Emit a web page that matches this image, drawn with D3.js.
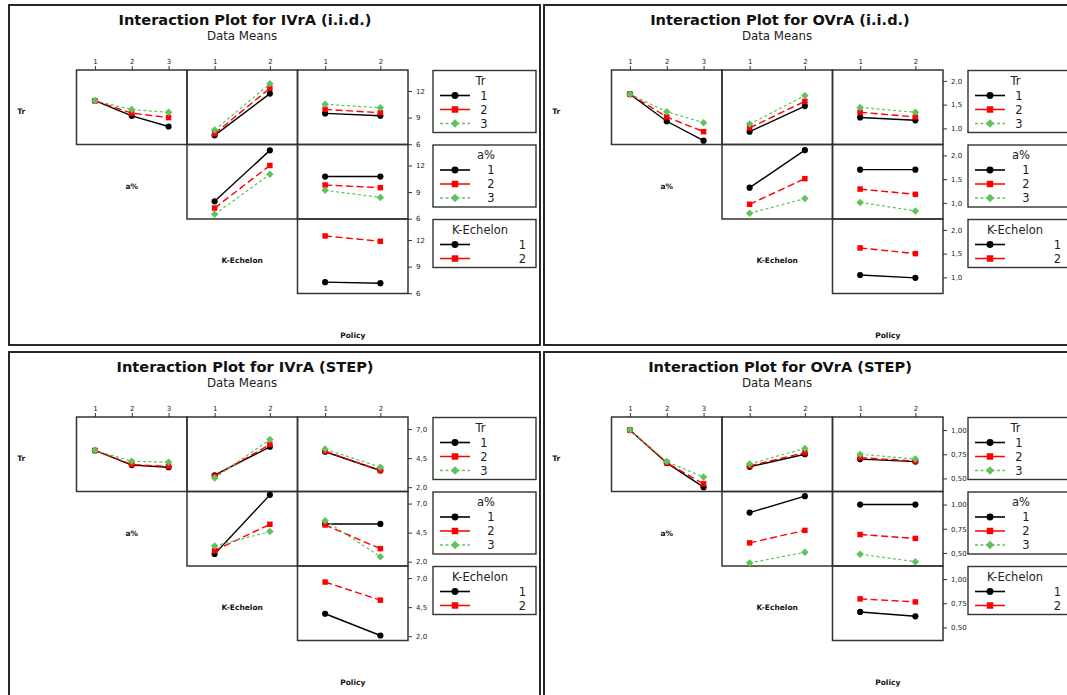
<!DOCTYPE html>
<html>
<head>
<meta charset="utf-8">
<script src="https://cdn.jsdelivr.net/npm/d3@7"></script>
<style>
  body { margin: 0; background: #fff; }
  svg { display: block; font-family: "DejaVu Sans", sans-serif; }
</style>
</head>
<body>
<svg id="chart" width="1067" height="695"></svg>
<script>
// ---- Factor levels -------------------------------------------------------
const trLevels = ["1", "2", "3"];
const aLevels = ["1", "2", "3"];
const kLevels = ["1", "2"];
const policyLevels = ["1", "2"];
const factorNames = ["Tr", "a%", "K-Echelon", "Policy"];

// ---- Data means (each row = one level of the trace factor) --------------
// IVrA (i.i.d.)
const ivraIidTrByA = [[10.9, 9.2, 8.0], [10.9, 9.5, 9.0], [10.9, 9.9, 9.6]];
const ivraIidTrByK = [[7.0, 11.7], [7.2, 12.3], [7.6, 12.8]];
const ivraIidTrByPolicy = [[9.47, 9.21], [9.92, 9.55], [10.49, 10.11]];
const ivraIidAByK = [[7.96, 13.7], [7.2, 12.0], [6.5, 11.0]];
const ivraIidAByPolicy = [[10.75, 10.75], [9.8, 9.5], [9.2, 8.4]];
const ivraIidKByPolicy = [[7.25, 7.13], [12.45, 11.85]];
const ivraIidTicks = [6, 9, 12];

// OVrA (i.i.d.)
const ovraIidTrByA = [[1.72, 1.15, 0.74], [1.72, 1.24, 0.93], [1.72, 1.35, 1.12]];
const ovraIidTrByK = [[0.93, 1.47], [1.01, 1.57], [1.09, 1.69]];
const ovraIidTrByPolicy = [[1.23, 1.17], [1.34, 1.24], [1.44, 1.34]];
const ovraIidAByK = [[1.32, 2.11], [0.97, 1.51], [0.78, 1.09]];
const ovraIidAByPolicy = [[1.70, 1.70], [1.29, 1.18], [1.01, 0.83]];
const ovraIidKByPolicy = [[1.05, 0.99], [1.62, 1.50]];
const ovraIidTicks = [1.0, 1.5, 2.0];

// IVrA (STEP)
const ivraStepTrByA = [[5.16, 3.9, 3.72], [5.16, 3.95, 3.78], [5.16, 4.24, 4.15]];
const ivraStepTrByK = [[3.03, 5.48], [2.95, 5.68], [2.8, 6.1]];
const ivraStepTrByPolicy = [[5.05, 3.44], [5.1, 3.44], [5.28, 3.72]];
const ivraStepAByK = [[2.66, 7.75], [2.95, 5.22], [3.35, 4.59]];
const ivraStepAByPolicy = [[5.25, 5.25], [5.16, 3.12], [5.53, 2.43]];
const ivraStepKByPolicy = [[3.93, 2.06], [6.66, 5.1]];
const ivraStepTicks = [2.0, 4.5, 7.0];

// OVrA (STEP)
const ovraStepTrByA = [[1.0, 0.66, 0.41], [1.0, 0.663, 0.444], [1.0, 0.674, 0.514]];
const ovraStepTrByK = [[0.62, 0.75], [0.63, 0.767], [0.65, 0.81]];
const ovraStepTrByPolicy = [[0.70, 0.674], [0.715, 0.68], [0.75, 0.70]];
const ovraStepAByK = [[0.917, 1.087], [0.604, 0.733], [0.396, 0.507]];
const ovraStepAByPolicy = [[1.0, 1.0], [0.69, 0.65], [0.486, 0.41]];
const ovraStepKByPolicy = [[0.66, 0.615], [0.795, 0.764]];
const ovraStepTicks = [0.50, 0.75, 1.00];

// ---- Helpers --------------------------------------------------------------
const levelsOf = [trLevels, aLevels, kLevels, policyLevels];
const loc = d3.formatLocale({ decimal: ",", thousands: ".", grouping: [3], currency: ["", ""] });

const panels = [
  { title: "Interaction Plot for IVrA (i.i.d.)", origin: [9, 5], h: 340,
    domain: [5.97, 14.36], ticks: ivraIidTicks, fmt: loc.format("d"),
    cells: [[ivraIidTrByA, ivraIidTrByK, ivraIidTrByPolicy], [null, ivraIidAByK, ivraIidAByPolicy], [null, null, ivraIidKByPolicy]] },
  { title: "Interaction Plot for OVrA (i.i.d.)", origin: [544, 5], h: 340,
    domain: [0.66, 2.23], ticks: ovraIidTicks, fmt: loc.format(".1f"),
    cells: [[ovraIidTrByA, ovraIidTrByK, ovraIidTrByPolicy], [null, ovraIidAByK, ovraIidAByPolicy], [null, null, ovraIidKByPolicy]] },
  { title: "Interaction Plot for IVrA (STEP)", origin: [9, 352], h: 360,
    domain: [1.63, 8.04], ticks: ivraStepTicks, fmt: loc.format(".1f"),
    cells: [[ivraStepTrByA, ivraStepTrByK, ivraStepTrByPolicy], [null, ivraStepAByK, ivraStepAByPolicy], [null, null, ivraStepKByPolicy]] },
  { title: "Interaction Plot for OVrA (STEP)", origin: [544, 352], h: 360,
    domain: [0.365, 1.135], ticks: ovraStepTicks, fmt: loc.format(".2f"),
    cells: [[ovraStepTrByA, ovraStepTrByK, ovraStepTrByPolicy], [null, ovraStepAByK, ovraStepAByPolicy], [null, null, ovraStepKByPolicy]] }
];

// Series styling by trace level (diamond = square turned 45 degrees)
const seriesStyle = [
  { color: "#000000", dash: null, ldash: null, width: 1.4, symbol: d3.symbolCircle, rot: 0, size: 30, lsize: 38 },
  { color: "#ff0000", dash: "7,3.5", ldash: "13,4", width: 1.4, symbol: d3.symbolSquare, rot: 0, size: 30, lsize: 42 },
  { color: "#5fc25c", dash: "3,2.5", ldash: "3,2.5", width: 1.2, symbol: d3.symbolSquare, rot: 45, size: 28, lsize: 36 }
];

// Grid geometry inside each panel
const gx0 = 67.5, gy0 = 65, cw = 110.5, ch = 74.5;
const legendX = 424, legendW = 103;
const legendTitleX = [471.5, 477, 471];
const legendLabelX = [475, 482, 513.5];

const svg = d3.select("#chart");

panels.forEach(p => {
  const g = svg.append("g").attr("transform", `translate(${p.origin[0]},${p.origin[1]})`);

  // panel frame
  g.append("rect").attr("x", 0).attr("y", 0).attr("width", 531).attr("height", p.h)
    .attr("fill", "none").attr("stroke", "#111").attr("stroke-width", 1.8);

  // titles
  g.append("text").attr("x", 236).attr("y", 19.5).attr("text-anchor", "middle")
    .attr("font-weight", "bold").attr("font-size", 14.6).attr("fill", "#111").text(p.title);
  g.append("text").attr("x", 233).attr("y", 35).attr("text-anchor", "middle")
    .attr("font-size", 11.8).attr("fill", "#222").text("Data Means");

  // x scales per column (column c uses factor c+1)
  const xs = [0, 1, 2].map(c => d3.scalePoint().domain(levelsOf[c + 1])
    .range([gx0 + c * cw, gx0 + (c + 1) * cw]).padding(0.5));
  // y scales per row
  const ys = [0, 1, 2].map(r => d3.scaleLinear().domain(p.domain)
    .range([gy0 + (r + 1) * ch, gy0 + r * ch]));

  // top axes
  xs.forEach(x => {
    const ax = g.append("g").attr("transform", `translate(0,${gy0})`)
      .call(d3.axisTop(x).tickSize(4).tickSizeOuter(0).tickPadding(2.5));
    ax.select(".domain").remove();
    ax.selectAll("line").attr("stroke", "#333").attr("stroke-width", 1);
    ax.selectAll("text").attr("font-size", 7).attr("fill", "#222").attr("font-family", "DejaVu Sans");
  });

  // right axes
  ys.forEach(y => {
    const ax = g.append("g").attr("transform", `translate(${gx0 + 3 * cw},0)`)
      .call(d3.axisRight(y).tickValues(p.ticks).tickFormat(p.fmt).tickSize(4).tickSizeOuter(0).tickPadding(4));
    ax.select(".domain").remove();
    ax.selectAll("line").attr("stroke", "#333").attr("stroke-width", 1);
    ax.selectAll("text").attr("font-size", 7).attr("fill", "#222").attr("font-family", "DejaVu Sans");
  });

  // cells
  for (let r = 0; r < 3; r++) {
    for (let c = r; c < 3; c++) {
      const table = p.cells[r][c];
      const x = xs[c], y = ys[r];
      const xLevels = levelsOf[c + 1];
      const cg = g.append("g");
      cg.append("rect").attr("x", gx0 + c * cw).attr("y", gy0 + r * ch)
        .attr("width", cw).attr("height", ch)
        .attr("fill", "none").attr("stroke", "#333").attr("stroke-width", 1.5);
      table.forEach((vals, si) => {
        const st = seriesStyle[si];
        const pts = vals.map((v, i) => [x(xLevels[i]), y(v)]);
        cg.append("path").attr("d", d3.line()(pts))
          .attr("fill", "none").attr("stroke", st.color).attr("stroke-width", st.width)
          .attr("stroke-dasharray", st.dash);
        cg.selectAll(null).data(pts).join("path")
          .attr("transform", d => `translate(${d[0]},${d[1]}) rotate(${st.rot})`)
          .attr("d", d3.symbol(st.symbol, st.size)())
          .attr("fill", st.color);
      });
    }
  }

  // diagonal factor labels
  factorNames.forEach((name, i) => {
    g.append("text").attr("x", gx0 + (i - 0.5) * cw).attr("y", gy0 + (i + 0.5) * ch + 4.5)
      .attr("text-anchor", "middle").attr("dominant-baseline", "central")
      .attr("font-weight", "bold").attr("font-size", 7.5).attr("fill", "#111").text(name);
  });

  // legends
  [0, 1, 2].forEach(r => {
    const lv = levelsOf[r];
    const top = gy0 + r * ch + 0.5;
    const lh = 34 + (lv.length - 1) * 14;
    const lg = g.append("g");
    lg.append("rect").attr("x", legendX).attr("y", top).attr("width", legendW).attr("height", lh)
      .attr("fill", "#fff").attr("stroke", "#333").attr("stroke-width", 1.4);
    lg.append("text").attr("x", legendTitleX[r]).attr("y", top + 14).attr("text-anchor", "middle")
      .attr("font-size", 11.5).attr("fill", "#222").text(factorNames[r]);
    lv.forEach((lab, i) => {
      const st = seriesStyle[i];
      const yy = top + 25 + i * 14;
      lg.append("line").attr("x1", legendX + 7).attr("x2", legendX + 37).attr("y1", yy).attr("y2", yy)
        .attr("stroke", st.color).attr("stroke-width", st.width + 0.2).attr("stroke-dasharray", st.ldash);
      lg.append("path").attr("transform", `translate(${legendX + 22},${yy}) rotate(${st.rot})`)
        .attr("d", d3.symbol(st.symbol, st.lsize)()).attr("fill", st.color);
      lg.append("text").attr("x", legendLabelX[r]).attr("y", yy + 4.2).attr("text-anchor", "middle")
        .attr("font-size", 11.5).attr("fill", "#222").text(lab);
    });
  });
});
</script>
</body>
</html>
